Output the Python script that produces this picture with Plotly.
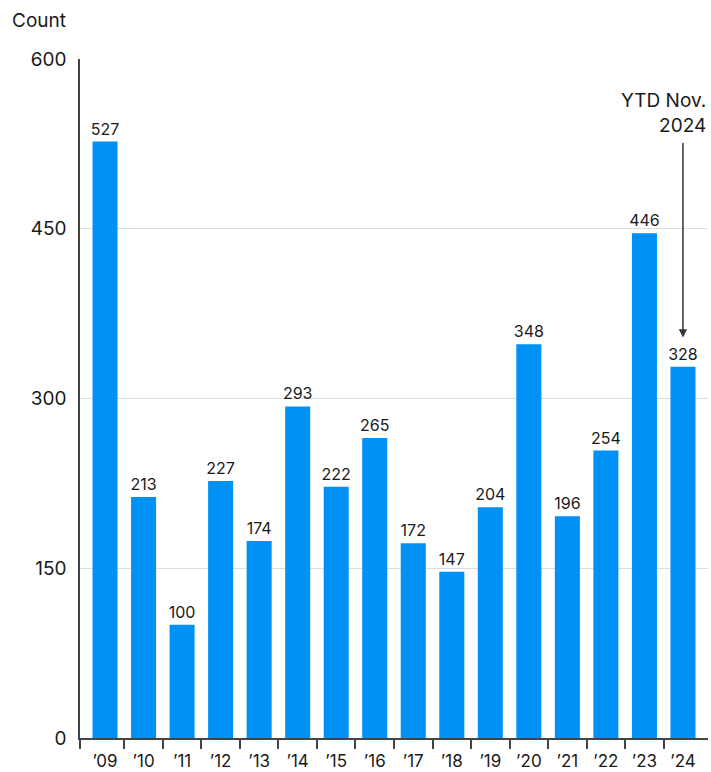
import plotly.graph_objects as go

years = ["’09", "’10", "’11", "’12", "’13", "’14", "’15", "’16",
         "’17", "’18", "’19", "’20", "’21", "’22", "’23", "’24"]
counts = [527, 213, 100, 227, 174, 293, 222, 265,
          172, 147, 204, 348, 196, 254, 446, 328]
y_ticks = [0, 150, 300, 450, 600]

FONT = "Inter, Roboto, Liberation Sans, sans-serif"
BAR = "#0091F7"
INK = "#1a1a1a"
AXIS = "#444444"

pos = list(range(len(years)))
x_lo, x_hi = -0.65, len(years) - 0.35

fig = go.Figure(go.Bar(
    x=pos,
    y=counts,
    width=0.65,
    marker=dict(color=BAR, line=dict(width=0)),
    text=[str(v) for v in counts],
    textposition="outside",
    constraintext="none",
    textfont=dict(family=FONT, size=16, color=INK),
    cliponaxis=False,
))

fig.update_layout(
    width=711,
    height=772,
    margin=dict(l=80, r=3, t=59, b=34),
    paper_bgcolor="white",
    plot_bgcolor="white",
    showlegend=False,
    font=dict(family=FONT, color=INK),
)

# Year labels under each bar, separator ticks between years
fig.update_xaxes(
    range=[x_lo, x_hi],
    automargin=False,
    tickmode="array",
    tickvals=pos,
    ticktext=years,
    ticks="outside",
    ticklen=7,
    tickcolor="rgba(0,0,0,0)",
    ticklabelstandoff=0,
    tickfont=dict(family=FONT, size=17, color=INK),
    minor=dict(
        tickmode="array",
        tickvals=[x_lo] + [p + 0.5 for p in pos[:-1]],
        ticks="outside",
        ticklen=9,
        tickcolor=AXIS,
        tickwidth=1.5,
        showgrid=False,
    ),
    showline=True,
    linecolor=AXIS,
    linewidth=1.5,
    showgrid=False,
    zeroline=False,
)

fig.update_yaxes(
    range=[0, 600],
    automargin=False,
    tickvals=y_ticks,
    ticktext=[str(v) for v in y_ticks],
    showline=True,
    linecolor=AXIS,
    linewidth=1.5,
    ticks="",
    ticklabelstandoff=8,
    tickfont=dict(family=FONT, size=19, color=INK),
    showgrid=True,
    gridcolor="#dddddd",
    gridwidth=1,
    zeroline=False,
)

# Axis title placed above the tick labels
fig.add_annotation(
    text="Count", xref="paper", yref="paper",
    x=-70 / 628, y=1 + 38 / 679, xanchor="left", yanchor="middle",
    showarrow=False, font=dict(family=FONT, size=19, color=INK),
)

# Note on the partial-year bar
fig.add_annotation(
    text="YTD Nov.<br>2024", xref="paper", yref="y",
    x=1.0, y=575, xanchor="right", yanchor="top", align="right",
    showarrow=False, font=dict(family=FONT, size=19, color=INK),
)
fig.add_annotation(
    x=pos[-1], y=354, ax=pos[-1], ay=527,
    xref="x", yref="y", axref="x", ayref="y",
    text="", showarrow=True, arrowhead=2, arrowsize=1.1,
    arrowwidth=1.5, arrowcolor="#333",
)

fig.write_html("out.html")
